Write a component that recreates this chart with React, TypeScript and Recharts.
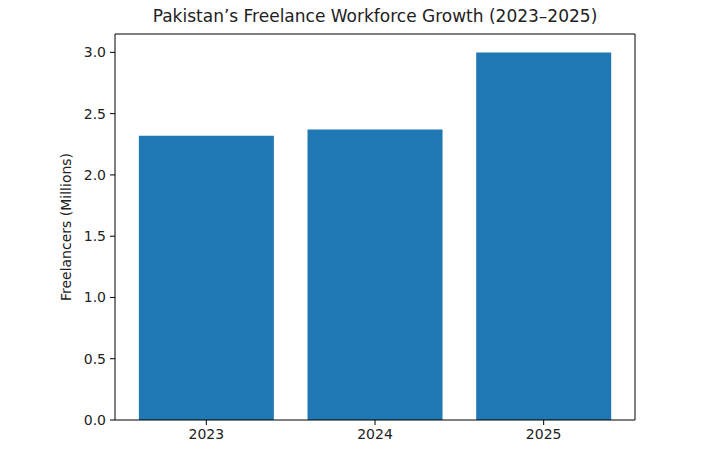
import { BarChart, Bar, XAxis, YAxis } from "recharts";

const YEARS = ["2023", "2024", "2025"];
const FREELANCERS = [2.32, 2.37, 3.0];
const Y_TICKS = [0, 0.5, 1.0, 1.5, 2.0, 2.5, 3.0];

const data = YEARS.map((year, i) => ({ year, freelancers: FREELANCERS[i] }));

const FONT = "'DejaVu Sans', sans-serif";
const TICK = { fontSize: 14, fill: "#222", fontFamily: FONT };

export default function App() {
  return (
    <div style={{ position: "fixed", left: 0, top: 0, width: 721, height: 468, background: "#fff" }}>
      <div
        style={{
          position: "absolute",
          left: 115,
          width: 520,
          top: 6,
          textAlign: "center",
          fontFamily: FONT,
          fontSize: 17,
          color: "#222",
        }}
      >
        Pakistan’s Freelance Workforce Growth (2023–2025)
      </div>
      <BarChart
        width={721}
        height={468}
        data={data}
        margin={{ top: 33, right: 85, bottom: 18, left: 60 }}
        barCategoryGap="10%"
      >
        <XAxis
          dataKey="year"
          padding={{ left: 7, right: 7 }}
          tick={TICK}
          tickSize={5}
          tickMargin={4}
          stroke="#000"
          height={30}
        />
        <XAxis xAxisId="top" orientation="top" dataKey="year" tick={false} tickLine={false} stroke="#000" height={1} />
        <YAxis
          domain={[0, 3.15]}
          ticks={Y_TICKS}
          tickFormatter={(v: number) => v.toFixed(1)}
          tick={TICK}
          tickSize={5}
          tickMargin={4}
          stroke="#000"
          width={55}
          label={{
            value: "Freelancers (Millions)",
            angle: -90,
            position: "insideLeft",
            offset: 6,
            style: { textAnchor: "middle", fontSize: 14, fill: "#222", fontFamily: FONT },
          }}
        />
        <YAxis yAxisId="right" orientation="right" domain={[0, 3.15]} tick={false} tickLine={false} stroke="#000" width={1} />
        <Bar dataKey="freelancers" fill="#1f77b4" isAnimationActive={false} />
      </BarChart>
    </div>
  );
}
